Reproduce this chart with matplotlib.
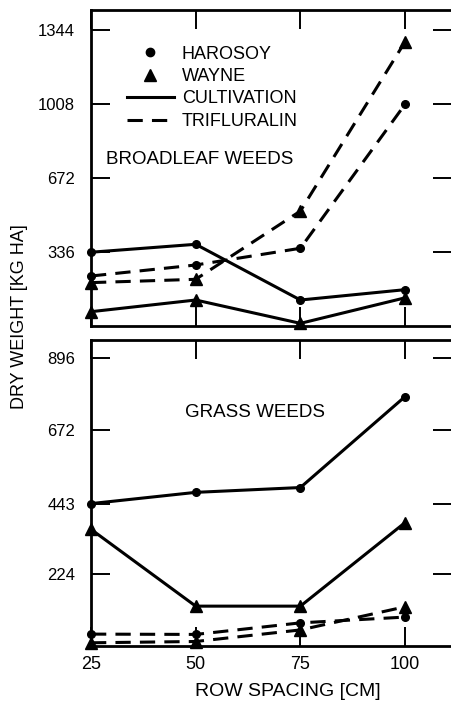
import matplotlib
matplotlib.use("Agg")
import matplotlib.pyplot as plt
from matplotlib.lines import Line2D

plt.rcParams['font.family'] = ['Liberation Sans', 'DejaVu Sans']

row_spacing = [25, 50, 75, 100]

# Broadleaf weeds (kg/ha)
broad_harosoy_cult = [335, 371, 118, 165]
broad_wayne_cult = [65, 118, 12, 128]
broad_harosoy_trif = [227, 277, 353, 1007]
broad_wayne_trif = [197, 212, 522, 1291]

# Grass weeds (kg/ha)
grass_harosoy_cult = [443, 478, 493, 776]
grass_wayne_cult = [363, 124, 124, 384]
grass_harosoy_trif = [37, 36, 72, 90]
grass_wayne_trif = [10, 14, 50, 122]

broad_yticks = [336, 672, 1008, 1344]
grass_yticks = [224, 443, 672, 896]
xticks = [25, 50, 75, 100]

W, H = 452, 701
fig = plt.figure(figsize=(W / 100, H / 100), dpi=100)

def axrect(l, t, r, b):
    return [l / W, 1 - b / H, (r - l) / W, (b - t) / H]

ax1 = fig.add_axes(axrect(91, 10, 452, 326))
ax2 = fig.add_axes(axrect(91, 340, 452, 646))

lw = 2.2
def plot_panel(ax, hc, wc, ht, wt):
    ax.plot(row_spacing, hc, '-', color='black', lw=lw, marker='o', ms=5.5, clip_on=False, zorder=3)
    ax.plot(row_spacing, wc, '-', color='black', lw=lw, marker='^', ms=9, clip_on=False, zorder=3)
    ax.plot(row_spacing, ht, '--', color='black', lw=lw, marker='o', ms=5.5, dashes=(5, 3), clip_on=False, zorder=3)
    ax.plot(row_spacing, wt, '--', color='black', lw=lw, marker='^', ms=9, dashes=(5, 3), clip_on=False, zorder=3)

plot_panel(ax1, broad_harosoy_cult, broad_wayne_cult, broad_harosoy_trif, broad_wayne_trif)
plot_panel(ax2, grass_harosoy_cult, grass_wayne_cult, grass_harosoy_trif, grass_wayne_trif)

ax1.set_ylim(0, 1435)
ax2.set_ylim(0, 952)
for ax, yt in ((ax1, broad_yticks), (ax2, grass_yticks)):
    ax.set_xlim(25, 111.2)
    ax.set_yticks(yt)
    ax.set_yticklabels([str(v) for v in yt])
    ax.set_xticks(xticks)
    ax.tick_params(axis='both', direction='in', length=14, width=1.4,
                   top=True, right=True)
    ax.tick_params(axis='y', labelsize=12, pad=11.5)
    ax.spines['right'].set_visible(False)
    for s in ('left', 'bottom', 'top'):
        ax.spines[s].set_linewidth(2)

ax1.set_xticklabels([])
ax2.set_xticklabels([str(v) for v in xticks])
ax2.tick_params(axis='x', labelsize=13, pad=7.5)

fig.text(288 / W, 1 - 692 / H, 'ROW SPACING [CM]', fontsize=14,
         ha='center', va='center')
fig.text(20 / W, 1 - 317 / H, 'DRY WEIGHT [KG HA]', rotation=90, fontsize=13,
         ha='center', va='center')

ax1.text(28.6, 758, 'BROADLEAF WEEDS', fontsize=13.5, ha='left', va='center')
ax2.text(47.4, 725, 'GRASS WEEDS', fontsize=13.5, ha='left', va='center')

handles = [
    Line2D([], [], ls='none', marker='o', color='black', ms=6),
    Line2D([], [], ls='none', marker='^', color='black', ms=9),
    Line2D([], [], ls='-', color='black', lw=lw),
    Line2D([], [], ls='--', color='black', lw=lw, dashes=(5, 3)),
]
labels = ['HAROSOY', 'WAYNE', 'CULTIVATION', 'TRIFLURALIN']
ax1.legend(handles, labels, loc='upper left', bbox_to_anchor=(0.079, 0.91),
           frameon=False, fontsize=13, handlelength=2.6, handletextpad=0.45,
           labelspacing=0.3, borderaxespad=0)

fig.savefig('out.png', dpi=100)
